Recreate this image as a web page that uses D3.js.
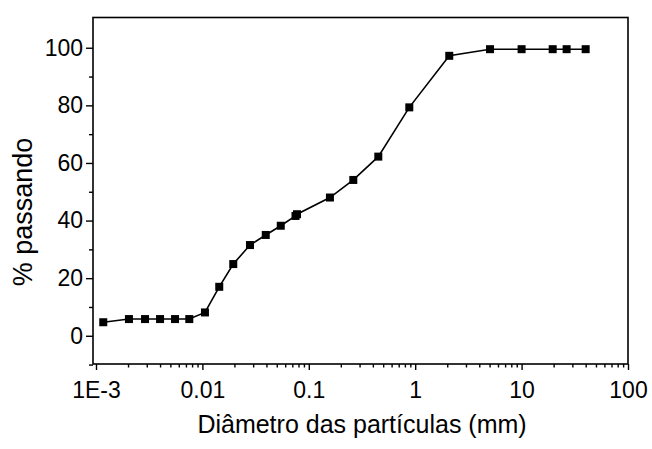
<!DOCTYPE html>
<html><head><meta charset="utf-8">
<script src="https://cdn.jsdelivr.net/npm/d3@7"></script>
<style>body{margin:0;background:#fff}svg{display:block}text{font-family:"Liberation Sans",Arial,sans-serif;fill:#000}</style>
</head><body>
<svg id="c" width="652" height="449"></svg>
<script>
const diameters = [0.00117,0.00204,0.00289,0.0040,0.00553,0.00753,0.01057,0.0144,0.0195,0.028,0.0394,0.0545,0.0750,0.0775,0.158,0.262,0.45,0.88,2.09,5.05,10,19.6,26.5,40];
const passing   = [4.7,5.8,5.8,5.8,5.8,5.8,8.1,17.0,24.9,31.5,35.0,38.2,41.6,42.2,48.0,54.1,62.2,79.3,97.2,99.5,99.5,99.5,99.5,99.5];
const xTickValues = [0.001,0.01,0.1,1,10,100];
const xTickLabels = ["1E-3","0.01","0.1","1","10","100"];
const yTickValues = [0,20,40,60,80,100];
const yMinorValues = [-10,10,30,50,70,90];
const xLabel = "Diâmetro das partículas (mm)";
const yLabel = "% passando";

const svg = d3.select("#c");
const L=93, R=628, T=17.5, B=364;
const x = d3.scaleLog().domain([Math.pow(10,-3-3/106.4),100]).range([L,R]);
const y = d3.scaleLinear().domain([-9.8,110.5]).range([B,T]);

const minorX=[];
for(let e=-3;e<2;e++){for(let k=2;k<=9;k++){minorX.push(k*Math.pow(10,e));}}

const fs=23;
svg.append("rect").attr("x",L).attr("y",T).attr("width",R-L).attr("height",B-T)
  .attr("fill","none").attr("stroke","#000").attr("stroke-width",1.6);

const gx = svg.append("g").attr("transform",`translate(0,${B})`);
gx.call(d3.axisBottom(x).tickValues(xTickValues).tickFormat((d,i)=>xTickLabels[i]).tickSize(6).tickPadding(9))
  .call(g=>g.select(".domain").remove());
gx.append("g").call(d3.axisBottom(x).tickValues(minorX).tickFormat("").tickSize(3.5))
  .call(g=>g.select(".domain").remove());
gx.selectAll("line").attr("stroke","#000").attr("stroke-width",1.4);
gx.selectAll("text").attr("font-size",fs).attr("fill","#000").attr("dy",null).attr("y",null)
  .attr("transform","translate(0,34)").style("font-family","Liberation Sans, Arial, sans-serif");

const gy = svg.append("g").attr("transform",`translate(${L},0)`);
gy.call(d3.axisLeft(y).tickValues(yTickValues).tickSize(7).tickPadding(3))
  .call(g=>g.select(".domain").remove());
gy.append("g").call(d3.axisLeft(y).tickValues(yMinorValues).tickFormat("").tickSize(4))
  .call(g=>g.select(".domain").remove());
gy.selectAll("line").attr("stroke","#000").attr("stroke-width",1.4);
gy.selectAll("text").attr("font-size",fs).attr("fill","#000").style("font-family","Liberation Sans, Arial, sans-serif");

const data = diameters.map((d,i)=>({d,p:passing[i]}));
svg.append("path").datum(data)
  .attr("d",d3.line().x(d=>x(d.d)).y(d=>y(d.p)))
  .attr("fill","none").attr("stroke","#000").attr("stroke-width",1.6);
const s=8;
svg.selectAll("rect.m").data(data).join("rect").attr("class","m")
  .attr("x",d=>x(d.d)-s/2).attr("y",d=>y(d.p)-s/2).attr("width",s).attr("height",s).attr("fill","#000");

svg.append("text").attr("x",362).attr("y",433).attr("text-anchor","middle").attr("font-size",25).text(xLabel);
svg.append("text").attr("transform",`translate(32,212) rotate(-90)`).attr("text-anchor","middle").attr("font-size",27).text(yLabel);
</script>
</body></html>
